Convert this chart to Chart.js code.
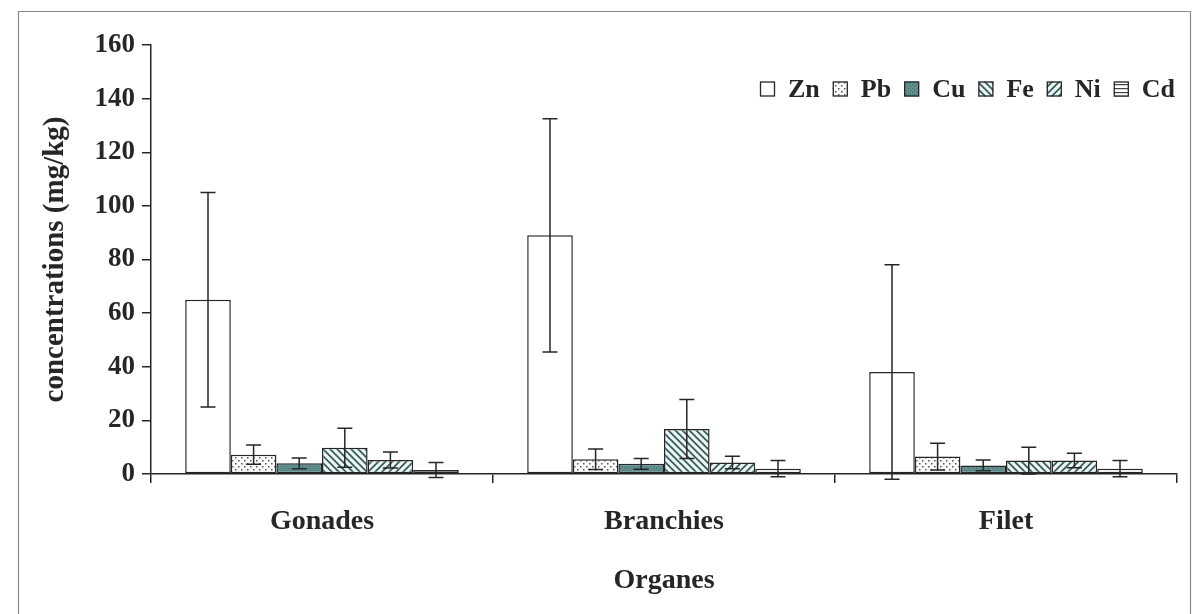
<!DOCTYPE html>
<html>
<head>
<meta charset="utf-8">
<script src="https://cdn.jsdelivr.net/npm/chart.js@4.4.1/dist/chart.umd.min.js"></script>
<style>html,body{margin:0;padding:0;background:#fff}</style>
</head>
<body>
<canvas id="metalChart" width="1197" height="614"></canvas>
<script>
// valeurs (mg/kg), moyenne et écart-type
const organes = ['Gonades', 'Branchies', 'Filet'];
const metaux = ['Zn', 'Pb', 'Cu', 'Fe', 'Ni', 'Cd'];
const zn = [65, 89, 38];
const znErr = [40, 43.5, 40];
const pb = [7.2, 5.5, 6.5];
const pbErr = [3.6, 3.8, 5];
const cu = [4, 3.8, 3.2];
const cuErr = [2, 2, 2];
const fe = [9.8, 16.8, 5];
const feErr = [7.3, 11, 5];
const ni = [5.2, 4.3, 5];
const niErr = [3, 2.3, 2.7];
const cd = [1.5, 2, 2];
const cdErr = [2.8, 3, 3];
const yMin = 0, yMax = 160, yStep = 20;

const SERIF = "'Liberation Serif', 'Times New Roman', serif";
const INK = '#262626';

const canvas = document.getElementById('metalChart');
const mainCtx = canvas.getContext('2d');

function makePattern(size, draw) {
  const c = document.createElement('canvas');
  c.width = c.height = size;
  const g = c.getContext('2d');
  draw(g, size);
  return mainCtx.createPattern(c, 'repeat');
}

const fills = {
  Zn: '#ffffff',
  Pb: makePattern(6, (g, s) => {
    g.fillStyle = '#fbfbfb'; g.fillRect(0, 0, s, s);
    g.fillStyle = '#555';
    g.fillRect(1, 1, 1.5, 1.5);
    g.fillRect(4, 4, 1.5, 1.5);
  }),
  Cu: makePattern(4, (g, s) => {
    g.fillStyle = '#5f8f8f'; g.fillRect(0, 0, s, s);
    g.fillStyle = '#3f6b6b';
    g.fillRect(0, 0, 1, 1); g.fillRect(2, 2, 1, 1);
  }),
  Fe: makePattern(7, (g, s) => {
    g.fillStyle = '#eef4f4'; g.fillRect(0, 0, s, s);
    g.strokeStyle = '#355f5f'; g.lineWidth = 1.8;
    g.beginPath();
    g.moveTo(0, 0); g.lineTo(s, s);
    g.moveTo(-1, s - 1); g.lineTo(1, s + 1);
    g.moveTo(s - 1, -1); g.lineTo(s + 1, 1);
    g.stroke();
  }),
  Ni: makePattern(7, (g, s) => {
    g.fillStyle = '#eef4f4'; g.fillRect(0, 0, s, s);
    g.strokeStyle = '#355f5f'; g.lineWidth = 1.8;
    g.beginPath();
    g.moveTo(0, s); g.lineTo(s, 0);
    g.moveTo(-1, 1); g.lineTo(1, -1);
    g.moveTo(s - 1, s + 1); g.lineTo(s + 1, s - 1);
    g.stroke();
  }),
  Cd: makePattern(4, (g, s) => {
    g.fillStyle = '#ffffff'; g.fillRect(0, 0, s, s);
    g.fillStyle = '#444';
    g.fillRect(0, 0, s, 1.2);
  })
};

const series = [zn, pb, cu, fe, ni, cd];
const errors = [znErr, pbErr, cuErr, feErr, niErr, cdErr];

const datasets = metaux.map((m, i) => ({
  label: m,
  data: series[i],
  errors: errors[i],
  backgroundColor: fills[m],
  borderColor: INK,
  borderWidth: 1.5,
  borderSkipped: false,
  categoryPercentage: 0.8,
  barPercentage: 1.0
}));

const errorBars = {
  id: 'errorBars',
  afterDatasetsDraw(chart) {
    const { ctx, scales: { y } } = chart;
    ctx.save();
    ctx.strokeStyle = INK;
    ctx.lineWidth = 1.5;
    chart.data.datasets.forEach((ds, i) => {
      chart.getDatasetMeta(i).data.forEach((bar, j) => {
        const v = ds.data[j], e = ds.errors[j];
        const top = y.getPixelForValue(v + e);
        const bot = y.getPixelForValue(v - e);
        const cap = 7.5;
        ctx.beginPath();
        ctx.moveTo(bar.x, top); ctx.lineTo(bar.x, bot);
        ctx.moveTo(bar.x - cap, top); ctx.lineTo(bar.x + cap, top);
        ctx.moveTo(bar.x - cap, bot); ctx.lineTo(bar.x + cap, bot);
        ctx.stroke();
      });
    });
    ctx.restore();
  }
};

const frame = {
  id: 'frame',
  beforeDraw(chart) {
    const { ctx, width, height } = chart;
    ctx.save();
    ctx.fillStyle = '#fff';
    ctx.fillRect(0, 0, width, height);
    ctx.strokeStyle = '#8a8a8a';
    ctx.lineWidth = 1.2;
    ctx.beginPath();
    ctx.moveTo(18.5, height); ctx.lineTo(18.5, 11.5);
    ctx.lineTo(1190.5, 11.5); ctx.lineTo(1190.5, height);
    ctx.stroke();
    ctx.restore();
  }
};

// légende dessinée à la main, en haut à droite comme sur la figure
const legendRow = {
  id: 'legendRow',
  afterDraw(chart) {
    const { ctx } = chart;
    ctx.save();
    ctx.font = `bold 26px ${SERIF}`;
    ctx.textBaseline = 'middle';
    let x = 760;
    const yc = 89, box = 15, gap = 13;
    chart.data.datasets.forEach(ds => {
      ctx.fillStyle = ds.backgroundColor;
      ctx.fillRect(x, yc - box / 2, box, box);
      ctx.strokeStyle = INK;
      ctx.lineWidth = 1.3;
      ctx.strokeRect(x + 0.5, yc - box / 2 + 0.5, box - 1, box - 1);
      x += box + gap;
      ctx.fillStyle = INK;
      ctx.fillText(ds.label, x, yc + 1);
      x += ctx.measureText(ds.label).width + gap;
    });
    ctx.restore();
  }
};

new Chart(canvas, {
  type: 'bar',
  data: { labels: organes, datasets },
  options: {
    responsive: false,
    animation: false,
    layout: { padding: { top: 45, right: 20, left: 0, bottom: 0 } },
    plugins: { legend: { display: false }, tooltip: { enabled: false } },
    scales: {
      x: {
        grid: { drawOnChartArea: false, drawTicks: true, tickLength: 9, offset: true, color: INK, lineWidth: 1.5 },
        border: { display: true, color: INK, width: 1.5 },
        ticks: { font: { family: SERIF, size: 28, weight: 'bold' }, color: INK, padding: 22 },
        title: { display: true, text: 'Organes', color: INK, font: { family: SERIF, size: 28, weight: 'bold' }, padding: { top: 0, bottom: 16 } },
        afterFit(scale) { scale.height = 140; }
      },
      y: {
        min: yMin, max: yMax,
        ticks: { stepSize: yStep, font: { family: SERIF, size: 27, weight: 'bold' }, color: INK, padding: 7 },
        grid: { drawOnChartArea: false, tickLength: 9, color: INK, lineWidth: 1.5 },
        border: { display: true, color: INK, width: 1.5 },
        title: { display: true, text: 'concentrations (mg/kg)', color: INK, font: { family: SERIF, size: 29, weight: 'bold' }, padding: { top: 38, bottom: 0 } },
        afterFit(scale) { scale.width = 151; }
      }
    }
  },
  plugins: [frame, errorBars, legendRow]
});
</script>
</body>
</html>
